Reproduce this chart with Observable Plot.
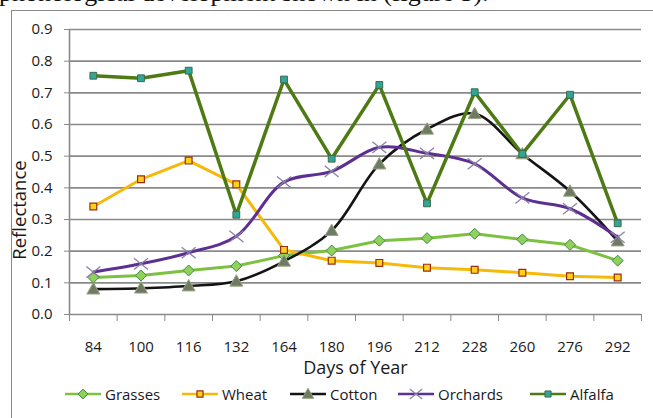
<!DOCTYPE html>
<html><head><meta charset="utf-8">
<script src="https://cdn.jsdelivr.net/npm/d3@7"></script>
<script src="https://cdn.jsdelivr.net/npm/@observablehq/plot@0.6"></script>
<style>
body{margin:0;background:#fff;}
#wrap{position:relative;width:653px;height:418px;overflow:hidden;background:#fff;font-family:"Open Sans",sans-serif;}
#topText{position:absolute;left:-1px;top:-20px;font-family:"Liberation Serif","Times New Roman",serif;font-size:26px;line-height:26px;white-space:nowrap;color:#111;}
#frame{position:absolute;left:11px;top:10px;width:700px;height:500px;border:1.5px solid #8a8a8a;box-sizing:border-box;}
#chart{position:absolute;left:0;top:0;}
.leg{position:absolute;top:384px;height:20px;display:flex;align-items:center;font-size:15px;color:#1a1a1a;white-space:nowrap;}
.leg svg{margin-right:4px;}
</style></head>
<body>
<div id="wrap">
  <div id="topText">phonological development shown in (figure 5).</div>
  <div id="frame"></div>
  <div id="chart"></div>
  <div id="legend"></div>
</div>
<script>
const days = [84, 100, 116, 132, 164, 180, 196, 212, 228, 260, 276, 292];
const yTicks = [0, 0.1, 0.2, 0.3, 0.4, 0.5, 0.6, 0.7, 0.8, 0.9];
const seriesNames = ["Grasses", "Wheat", "Cotton", "Orchards", "Alfalfa"];
const grasses  = [0.117, 0.123, 0.139, 0.153, 0.186, 0.202, 0.233, 0.241, 0.255, 0.237, 0.220, 0.170];
const wheat    = [0.341, 0.427, 0.486, 0.411, 0.204, 0.170, 0.163, 0.148, 0.141, 0.132, 0.121, 0.117];
const cotton   = [0.080, 0.083, 0.090, 0.105, 0.168, 0.265, 0.475, 0.585, 0.634, 0.507, 0.389, 0.232];
const orchards = [0.134, 0.160, 0.195, 0.247, 0.418, 0.452, 0.528, 0.509, 0.476, 0.368, 0.334, 0.244];
const alfalfa  = [0.754, 0.746, 0.770, 0.315, 0.742, 0.492, 0.725, 0.351, 0.702, 0.507, 0.694, 0.288];

// custom marker shapes (size = r^2 * PI as Plot passes it)
const half = s => Math.sqrt(s / Math.PI);
const symDiamond = {draw(c, s){const h = half(s); c.moveTo(0,-h); c.lineTo(h,0); c.lineTo(0,h); c.lineTo(-h,0); c.closePath();}};
const symSquare  = {draw(c, s){const h = half(s); c.moveTo(-h,-h); c.lineTo(h,-h); c.lineTo(h,h); c.lineTo(-h,h); c.closePath();}};
const symTri     = {draw(c, s){const h = half(s); c.moveTo(0,-h); c.lineTo(h,h*0.75); c.lineTo(-h,h*0.75); c.closePath();}};
const symTimes   = {draw(c, s){const h = half(s); c.moveTo(-h,-h*0.8); c.lineTo(h,h*0.8); c.moveTo(h,-h*0.8); c.lineTo(-h,h*0.8);}};

const styles = [
  {values: grasses,  line: "#7cc142", lw: 3,   curve: "linear",      sym: symDiamond, r: 5.5, fill: "#8fd15a", stroke: "#3f8a45", sw: 1},
  {values: wheat,    line: "#f5b90a", lw: 3,   curve: "linear",      sym: symSquare,  r: 3.4, fill: "#ffd21a", stroke: "#9b2c14", sw: 1.2},
  {values: cotton,   line: "#141414", lw: 2.6, curve: "catmull-rom", sym: symTri,     r: 6.5, fill: "#6e7b62", stroke: "#9aa583", sw: 1},
  {values: orchards, line: "#5c2f91", lw: 3,   curve: "catmull-rom", sym: symTimes,   r: 7,   fill: "none",    stroke: "#8a82a8", sw: 1.3},
  {values: alfalfa,  line: "#4e7a14", lw: 3.5, curve: "linear",      sym: symSquare,  r: 3.4, fill: "#31a59a", stroke: "#3d6b4a", sw: 1}
];

const seriesMarks = styles.flatMap(st => {
  const rows = days.map((d, i) => ({i, v: st.values[i]}));
  return [
    Plot.line(rows, {x: "i", y: "v", stroke: st.line, strokeWidth: st.lw, curve: st.curve}),
    Plot.dot(rows, {x: "i", y: "v", symbol: st.sym, r: st.r, fill: st.fill, stroke: st.stroke, strokeWidth: st.sw})
  ];
});

const bounds = d3.range(days.length + 1).map(k => k - 0.5);

const chart = Plot.plot({
  width: 653, height: 390,
  marginTop: 29, marginBottom: 76, marginLeft: 69, marginRight: 12,
  style: {fontFamily: '"Open Sans", sans-serif', fontSize: "15px", color: "#1a1a1a", background: "transparent"},
  x: {type: "linear", domain: [-0.5, days.length - 0.5]},
  y: {domain: [0, 0.9]},
  marks: [
    Plot.ruleY(yTicks, {stroke: "#8a8a8a", strokeWidth: 1.6}),
    Plot.ruleX([-0.5], {y1: 0, y2: 0.9, stroke: "#8a8a8a", strokeWidth: 1.6}),
    Plot.axisY({ticks: yTicks, tickSize: 5, tickPadding: 12, tickFormat: d => d.toFixed(1), label: null, stroke: "#8a8a8a", fontSize: 15}),
    Plot.axisX({ticks: bounds, tickSize: 7, tickFormat: () => "", label: null, stroke: "#8a8a8a"}),
    Plot.axisX({ticks: d3.range(days.length), tickSize: 0, tickPadding: 27, tickFormat: i => String(days[i]), label: null, fontSize: 15}),
    ...seriesMarks,
    Plot.text(["Days of Year"], {frameAnchor: "bottom", dy: 59, fontSize: 18, fill: "#1a1a1a"}),
    Plot.text(["Reflectance"], {frameAnchor: "left", textAnchor: "middle", dx: -49, dy: 38, rotate: -90, fontSize: 18.5, fill: "#1a1a1a"})
  ]
});
document.getElementById("chart").appendChild(chart);

// legend
const legendLeft = [65, 182, 290, 398, 530];
const legend = document.getElementById("legend");
styles.forEach((st, k) => {
  const item = document.createElement("div");
  item.className = "leg";
  item.style.left = legendLeft[k] + "px";
  const svg = d3.create("svg").attr("width", 36).attr("height", 16);
  svg.append("line").attr("x1", 0).attr("x2", 36).attr("y1", 8).attr("y2", 8)
    .attr("stroke", st.line).attr("stroke-width", Math.min(st.lw, 2.5));
  const p = d3.path();
  st.sym.draw(p, st.r * st.r * Math.PI * 0.8);
  svg.append("path").attr("d", p.toString()).attr("transform", "translate(18,8)")
    .attr("fill", st.fill).attr("stroke", st.stroke).attr("stroke-width", st.sw);
  item.appendChild(svg.node());
  const t = document.createElement("span");
  t.textContent = seriesNames[k];
  item.appendChild(t);
  legend.appendChild(item);
});
</script>
</body></html>
